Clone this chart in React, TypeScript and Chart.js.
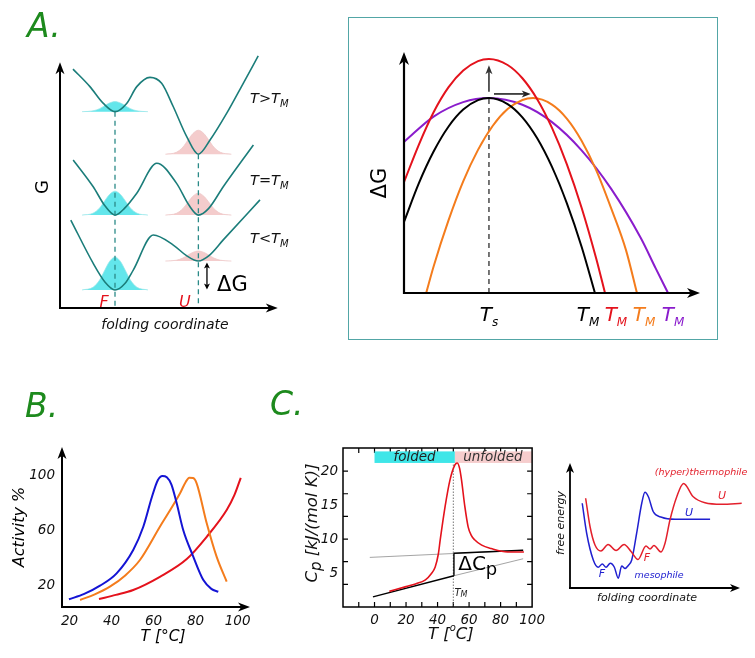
import React, { useEffect, useRef } from "react";
import { Chart, registerables } from "chart.js";

Chart.register(...registerables);

const FONT = "'DejaVu Sans', 'Noto Sans', sans-serif";

// ===== Panel A (left): G along the folding coordinate (x 0-100, G 0-100) =====
const wellAbove = [[5.9, 92.6], [13.6, 85.8], [19.7, 79.3], [25, 76.1], [30.3, 79.3], [34.9, 85.8], [40.9, 89.4], [46.2, 87.1], [51.5, 78], [57.6, 66.4], [62.9, 59.6], [68.2, 65.1], [75.8, 75.5], [83.3, 87.1], [90.1, 97.7]];
const wellAt = [[6, 57.4], [15.1, 47], [20.5, 39.5], [25, 36], [29.5, 38.8], [34.9, 44.5], [44, 56.1], [53, 48.3], [58.5, 40], [62.9, 36], [67.5, 38.5], [74.2, 47], [87.9, 63.2]];
const wellBelow = [[4.9, 34.1], [15.1, 17.3], [20.5, 10], [25, 7], [29.5, 9.5], [33.3, 14.7], [42.4, 28.3], [51.5, 24.4], [57.5, 20.3], [62.9, 18.2], [68, 20.5], [74.2, 26.4], [90.9, 41.9]];
const bumpShape = [[-15, 0], [-10, 0.08], [-7, 0.3], [-4.5, 0.62], [-2.5, 0.86], [0, 1], [2.5, 0.86], [4.5, 0.62], [7, 0.3], [10, 0.08], [15, 0]];
// [centre, base, height]
const foldedBumps = [[25, 76.1, 3.9], [25, 36, 9.3], [25, 7, 12.8]];
const unfoldedBumps = [[62.9, 59.6, 9.3], [62.9, 36, 8.5], [62.9, 18.2, 3.9]];
const aLeftDashX = [25, 62.9];
const aLeftDashTop = [76.1, 59.6];
const stateLabels = [["T>T", 81.4], ["T=T", 49.6], ["T<T", 27.1]];

// ===== Panel A (right): ΔG(T) =====
const dgBlack = [[0, 29.5], [5, 45.5], [10, 58.7], [15, 69], [20, 76.1], [25, 80], [28.7, 80.9], [35, 78.4], [40, 72.9], [45, 64.2], [50, 52.3], [55, 37.3], [60, 19.2], [64.5, 0]];
const dgRed = [[0, 46], [5, 61.5], [10, 75], [15, 85.3], [20, 92.3], [25, 96.2], [28.7, 97.1], [35, 94.6], [40, 89.1], [45, 80.4], [50, 68.5], [55, 53.5], [60, 35.4], [65, 14], [67.9, 0]];
const dgOrange = [[7.5, 0], [10, 11], [15, 30], [20, 46.3], [25, 59.4], [30, 69.4], [35, 76.3], [40, 80.1], [43.6, 80.9], [50, 78.2], [55, 72.4], [60, 63.2], [65, 50.8], [70, 35.1], [75, 17.8], [78.7, 0]];
const dgPurple = [[0, 62.7], [10, 73.2], [20, 79.2], [28.7, 80.9], [40, 78.1], [50, 70.9], [60, 59.2], [70, 43.2], [80, 22.8], [85, 10.3], [89.2, 0]];
const tS = 28.7;
const dgTop = 80.9;
const tmLabelX = [62.2, 71.6, 81.1, 90.9];

// ===== Panel B: activity vs temperature =====
const actMeso = [[19.7, 9.6], [27, 13.5], [34.5, 19.5], [42.4, 28.5], [50.3, 45.5], [55.1, 62.4], [59.2, 84], [62, 96.2], [64.2, 99.3], [66.3, 98.4], [68.5, 93], [71, 79.4], [74.1, 60], [78.6, 41.8], [83.7, 23.6], [87.5, 17.2], [90.8, 15.1]];
const actThermo = [[25, 9.1], [32, 13.2], [39.2, 18.8], [46.5, 27], [53.5, 38.2], [63, 62.4], [72.6, 86.7], [75.3, 95], [77, 98], [78.8, 97.8], [80.5, 94], [85.3, 64.9], [90, 40.6], [94.8, 22.4]];
const actHyper = [[34, 9.8], [42, 12.8], [50.3, 16.4], [63, 26], [75.8, 38.9], [85.3, 55.1], [94.8, 74.5], [98.5, 85.5], [101.5, 98]];
const bTicksX = [20, 40, 60, 80, 100];
const bTicksY = [20, 60, 100];

// ===== Panel C: heat capacity =====
const cpCurve = [[9.4, 2.3], [20, 3.0], [26, 3.4], [32.3, 4.0], [36, 4.9], [38.5, 5.9], [40.5, 7.8], [41.7, 9.9], [44.8, 14.8], [47.9, 18.7], [51, 20.9], [52.5, 21.2], [54, 20.4], [55.2, 18.7], [57.3, 14.8], [59.4, 11.8], [61.5, 10.5], [63.5, 9.9], [68, 9.1], [74, 8.6], [84.4, 8.1], [94.8, 8.1]];
const cpFoldedBase = [[-1, 1.5], [50.4, 4.6]];
const cpFoldedExt = [[50.4, 4.6], [94.3, 7.1]];
const cpUnfoldedExt = [[-3, 7.3], [94.3, 8.35]];
const cpUnfoldedBase = [[50.4, 7.9], [94.3, 8.35]];
const cpDelta = [[50.4, 4.6], [50.4, 7.9]];
const cpTm = [[50, 0], [50, 21]];
const cTicksX = [0, 20, 40, 60, 80, 100];
const cTicksY = [5, 10, 15, 20];
const cMarksX = [-10, 0, 10, 20, 30, 40, 50, 60, 70, 80, 90];
const cMarksY = [3.33, 6.67, 10, 13.33, 16.67, 20];
const foldedBand = [0, 51];
const unfoldedBand = [51, 100];
const bandY = [21.2, 22.9];

// ===== Panel C: landscapes =====
const feThermo = [[9.2, 71.8], [11.8, 49], [14.7, 34.4], [18.2, 29.6], [22.4, 34.8], [27.1, 30], [31.8, 34.8], [35.9, 29.2], [40, 22.8], [44.7, 33.6], [47.1, 31.2], [49.4, 34], [53.5, 28.8], [55.9, 35.8], [58.8, 54.4], [62.8, 73], [66.8, 83.6], [72.5, 73], [79.4, 68.2], [89.2, 67], [101, 67.8]];
const feMeso = [[7.2, 67.8], [9.8, 43.8], [13.7, 22.4], [16.6, 16.6], [19, 19.2], [21.2, 16.6], [23.7, 19.8], [26.1, 16.6], [28.4, 7.8], [30.4, 17.6], [32.4, 15.6], [34.3, 18], [36.3, 22.4], [39.2, 43.8], [42.2, 67.8], [44.1, 76.6], [46.1, 73], [49, 61], [53.9, 56.6], [61.8, 55], [82.4, 55]];

// ---------- helpers ----------
type Pt = { x: number; y: number };
const P = (a: number[][]): Pt[] => a.map(([x, y]) => ({ x, y }));
const bump = (c: number, base: number, h: number): Pt[] => bumpShape.map(([dx, f]) => ({ x: c + dx, y: base + f * h }));
const fnt = (size: number, italic = false) => `${italic ? "italic " : ""}${size}px ${FONT}`;

type Part = { t: string; size: number; dy?: number; italic?: boolean; color?: string };
function rich(ctx: CanvasRenderingContext2D, parts: Part[], x: number, y: number, o: { align?: string; color?: string; rotate?: number } = {}) {
  const { align = "center", color = "#000", rotate = 0 } = o;
  ctx.save();
  ctx.translate(x, y);
  if (rotate) ctx.rotate(rotate);
  const widths = parts.map((p) => {
    ctx.font = fnt(p.size, p.italic);
    return ctx.measureText(p.t).width;
  });
  const total = widths.reduce((a, b) => a + b, 0);
  let cx = align === "left" ? 0 : align === "right" ? -total : -total / 2;
  const base = parts[0].size * 0.36;
  ctx.textBaseline = "alphabetic";
  ctx.textAlign = "left";
  parts.forEach((p, i) => {
    ctx.font = fnt(p.size, p.italic);
    ctx.fillStyle = p.color || color;
    ctx.fillText(p.t, cx, base + (p.dy || 0));
    cx += widths[i];
  });
  ctx.restore();
}
function head(ctx: CanvasRenderingContext2D, x: number, y: number, ang: number, len: number, w: number) {
  ctx.save();
  ctx.translate(x, y);
  ctx.rotate(ang);
  ctx.beginPath();
  ctx.moveTo(0, 0);
  ctx.lineTo(-len, -w);
  ctx.lineTo(-len * 0.72, 0);
  ctx.lineTo(-len, w);
  ctx.closePath();
  ctx.fill();
  ctx.restore();
}
function arrow(ctx: CanvasRenderingContext2D, x1: number, y1: number, x2: number, y2: number, o: { color?: string; width?: number; len?: number; w?: number; both?: boolean } = {}) {
  const { color = "#000", width = 2, len = 12, w = 4.5, both = false } = o;
  const ang = Math.atan2(y2 - y1, x2 - x1);
  const c = Math.cos(ang), s = Math.sin(ang);
  const ins = len * 0.7;
  ctx.save();
  ctx.strokeStyle = color;
  ctx.fillStyle = color;
  ctx.lineWidth = width;
  ctx.beginPath();
  ctx.moveTo(both ? x1 + c * ins : x1, both ? y1 + s * ins : y1);
  ctx.lineTo(x2 - c * ins, y2 - s * ins);
  ctx.stroke();
  head(ctx, x2, y2, ang, len, w);
  if (both) head(ctx, x1, y1, ang + Math.PI, len, w);
  ctx.restore();
}
function seg(ctx: CanvasRenderingContext2D, x1: number, y1: number, x2: number, y2: number, color: string, width: number, dash: number[] = []) {
  ctx.save();
  ctx.strokeStyle = color;
  ctx.lineWidth = width;
  ctx.setLineDash(dash);
  ctx.beginPath();
  ctx.moveTo(x1, y1);
  ctx.lineTo(x2, y2);
  ctx.stroke();
  ctx.restore();
}

const line = (data: Pt[], color: string, width = 1.6, extra: any = {}) => ({
  data, borderColor: color, borderWidth: width, pointRadius: 0, fill: false,
  cubicInterpolationMode: "monotone", clip: false, ...extra,
});
const straight = (data: Pt[], color: string, width: number, extra: any = {}) => ({
  data, borderColor: color, borderWidth: width, pointRadius: 0, fill: false, tension: 0, clip: false, ...extra,
});

type H = { ctx: CanvasRenderingContext2D; X: (v: number) => number; Y: (v: number) => number; area: any };
const helpers = (chart: any): H => ({
  ctx: chart.ctx,
  X: (v: number) => chart.scales.x.getPixelForValue(v),
  Y: (v: number) => chart.scales.y.getPixelForValue(v),
  area: chart.chartArea,
});

function makeConfig(o: { datasets: any[]; pad: any; x: any; y: any; under?: (h: H) => void; over?: (h: H) => void }) {
  return {
    type: "line",
    data: { datasets: o.datasets },
    options: {
      responsive: false,
      animation: false,
      events: [],
      layout: { padding: o.pad },
      scales: { x: { type: "linear", ...o.x }, y: { type: "linear", ...o.y } },
      plugins: { legend: { display: false }, tooltip: { enabled: false }, title: { display: false } },
      elements: { point: { radius: 0 } },
    },
    plugins: [
      {
        id: "annot",
        beforeDatasetsDraw(chart: any) { o.under && o.under(helpers(chart)); },
        afterDatasetsDraw(chart: any) { o.over && o.over(helpers(chart)); },
      },
    ],
  } as any;
}

const hidden = (min: number, max: number) => ({ display: false, min, max });
const shown = (min: number, max: number, ticks: number[], fontSize: number, pad: number, fit: "w" | "h", size: number) => ({
  display: true,
  min, max,
  grid: { display: false, drawTicks: false },
  border: { display: false },
  ticks: { font: { family: FONT, size: fontSize, style: "italic" }, color: "#111", padding: pad, autoSkip: false, maxRotation: 0, minRotation: 0 },
  afterBuildTicks: (s: any) => { s.ticks = ticks.map((v) => ({ value: v })); },
  afterFit: (s: any) => { if (fit === "w") s.width = size; else s.height = size; },
});

// ---------- colours ----------
const TEAL = "#1b7d7a";
const CYAN_FILL = "rgba(72, 226, 232, 0.85)";
const CYAN_EDGE = "rgba(150, 230, 232, 0.7)";
const PINK_FILL = "rgba(240, 184, 184, 0.72)";
const PINK_EDGE = "rgba(238, 200, 200, 0.8)";
const RED = "#e4121c";
const ORANGE = "#f47c1c";
const PURPLE = "#8a1ccc";
const BLUE = "#1414d4";
const GREEN = "#1d8a1d";

// ---------- panel configs ----------
const configALeft = () =>
  makeConfig({
    pad: { left: 60, right: 20, top: 50, bottom: 32 },
    x: hidden(0, 100),
    y: hidden(0, 100),
    datasets: [
      line(P(wellAbove), TEAL),
      line(P(wellAt), TEAL),
      line(P(wellBelow), TEAL),
      ...foldedBumps.map(([c, b, h]) => line(bump(c, b, h), CYAN_EDGE, 1, { fill: { value: b }, backgroundColor: CYAN_FILL })),
      ...unfoldedBumps.map(([c, b, h]) => line(bump(c, b, h), PINK_EDGE, 1, { fill: { value: b }, backgroundColor: PINK_FILL })),
    ],
    over: ({ ctx, X, Y }) => {
      aLeftDashX.forEach((x, i) => seg(ctx, X(x), Y(aLeftDashTop[i]), X(x), Y(0), "#2b8a88", 1.3, [5, 4]));
      arrow(ctx, X(0), Y(0) + 1, X(0), Y(95.3), { width: 2 });
      arrow(ctx, X(0) - 1, Y(0), X(99), Y(0), { width: 2 });
      rich(ctx, [{ t: "F", size: 16, italic: true }], X(20), Y(2.6), { color: RED });
      rich(ctx, [{ t: "U", size: 16, italic: true }], X(56.8), Y(2.6), { color: RED });
      rich(ctx, [{ t: "folding coordinate", size: 14, italic: true }], X(47.7), Y(-6.3), { color: "#111" });
      rich(ctx, [{ t: "G", size: 18 }], X(-8.2), Y(46.9), { rotate: -Math.PI / 2 });
      stateLabels.forEach(([s, y]) =>
        rich(ctx, [{ t: s as string, size: 14.5, italic: true }, { t: "M", size: 10, italic: true, dy: 4 }], X(86.4), Y(y as number), { align: "left", color: "#111" })
      );
      arrow(ctx, X(66.8), Y(17.6), X(66.8), Y(7.2), { width: 1.3, len: 6, w: 3, both: true });
      rich(ctx, [{ t: "ΔG", size: 21 }], X(71.4), Y(9.7), { align: "left" });
    },
  });

const configARight = () =>
  makeConfig({
    pad: { left: 64, right: 55, top: 52, bottom: 47 },
    x: hidden(0, 100),
    y: hidden(0, 100),
    datasets: [
      line(P(dgBlack), "#000", 2),
      line(P(dgRed), RED, 2),
      line(P(dgOrange), ORANGE, 2),
      line(P(dgPurple), PURPLE, 2),
    ],
    under: ({ ctx, X, Y }) => {
      seg(ctx, X(tS), Y(0), X(tS), Y(dgTop), "#555", 1.6, [5, 4]);
    },
    over: ({ ctx, X, Y }) => {
      arrow(ctx, X(0), Y(0) + 1, X(0), Y(100), { width: 2.2, len: 13, w: 5 });
      arrow(ctx, X(0) - 1, Y(0), X(100), Y(0), { width: 2.2, len: 13, w: 5 });
      arrow(ctx, X(tS), Y(83.5), X(tS), Y(94.5), { color: "#333", width: 1.6, len: 9, w: 3.5 });
      arrow(ctx, X(30.4), Y(82.6), X(42.8), Y(82.6), { color: "#222", width: 1.6, len: 9, w: 3.5 });
      rich(ctx, [{ t: "ΔG", size: 21 }], X(-8.8), Y(45.6), { rotate: -Math.PI / 2 });
      rich(ctx, [{ t: "T", size: 20, italic: true }, { t: "s", size: 12, italic: true, dy: 5 }], X(tS), Y(-8.6));
      ["#000", RED, ORANGE, PURPLE].forEach((c, i) =>
        rich(ctx, [{ t: "T", size: 20, italic: true }, { t: "M", size: 12, italic: true, dy: 5 }], X(tmLabelX[i]), Y(-8.6), { color: c })
      );
    },
  });

const configB = () =>
  makeConfig({
    pad: { left: 0, right: 30, top: 67, bottom: 0 },
    x: shown(16.4, 105.9, bTicksX, 13.5, 6, "h", 51),
    y: shown(4, 120.4, bTicksY, 13.5, 7, "w", 62),
    datasets: [
      line(P(actMeso), BLUE, 2),
      line(P(actThermo), ORANGE, 2),
      line(P(actHyper), RED, 2),
    ],
    over: ({ ctx, X, Y, area }) => {
      arrow(ctx, area.left, area.bottom + 1, area.left, area.top, { width: 2, len: 12, w: 4.5 });
      arrow(ctx, area.left - 1, area.bottom, area.right, area.bottom, { width: 2, len: 12, w: 4.5 });
      rich(ctx, [{ t: "Activity %", size: 16, italic: true }], X(-4.6), Y(62.2), { rotate: -Math.PI / 2 });
      rich(ctx, [{ t: "T [°C]", size: 15.5, italic: true }], X(64.5), Y(-16.4));
    },
  });

const configC = () =>
  makeConfig({
    pad: { left: 0, right: 14, top: 68, bottom: 0 },
    x: shown(-20, 100, cTicksX, 13.5, 5, "h", 51),
    y: shown(0, 23.4, cTicksY, 13.5, 5, "w", 83),
    datasets: [
      line(P(cpCurve), RED, 1.6),
      straight(P(cpFoldedBase), "#000", 1.4),
      straight(P(cpUnfoldedBase), "#000", 1.4),
      straight(P(cpDelta), "#000", 1.4),
      straight(P(cpFoldedExt), "#9a9a9a", 0.9),
      straight(P(cpUnfoldedExt), "#9a9a9a", 0.9),
      straight(P(cpTm), "#666", 0.9, { borderDash: [1.5, 1.5] }),
    ],
    under: ({ ctx, X, Y, area }) => {
      ctx.save();
      ctx.strokeStyle = "#000";
      ctx.lineWidth = 1.2;
      ctx.beginPath();
      cMarksX.forEach((v) => {
        ctx.moveTo(X(v), area.bottom); ctx.lineTo(X(v), area.bottom - 5);
        ctx.moveTo(X(v), area.top); ctx.lineTo(X(v), area.top + 5);
      });
      cMarksY.forEach((v) => {
        ctx.moveTo(area.left, Y(v)); ctx.lineTo(area.left + 5, Y(v));
        ctx.moveTo(area.right, Y(v)); ctx.lineTo(area.right - 5, Y(v));
      });
      ctx.stroke();
      ctx.fillStyle = "#3fe6e8";
      ctx.fillRect(X(foldedBand[0]), Y(bandY[1]), X(foldedBand[1]) - X(foldedBand[0]), Y(bandY[0]) - Y(bandY[1]));
      ctx.fillStyle = "#f6cdcd";
      ctx.fillRect(X(unfoldedBand[0]), Y(bandY[1]), X(unfoldedBand[1]) - X(unfoldedBand[0]), Y(bandY[0]) - Y(bandY[1]));
      ctx.restore();
      rich(ctx, [{ t: "folded", size: 13.5, italic: true }], X(25.4), Y(22.2), { color: "#222" });
      rich(ctx, [{ t: "unfolded", size: 13.5, italic: true }], X(75.1), Y(22.2), { color: "#333" });
    },
    over: ({ ctx, X, Y, area }) => {
      ctx.save();
      ctx.strokeStyle = "#000";
      ctx.lineWidth = 1.5;
      ctx.strokeRect(area.left, area.top, area.right - area.left, area.bottom - area.top);
      ctx.restore();
      rich(ctx, [{ t: "ΔC", size: 20 }, { t: "p", size: 18, dy: 5 }], X(53.1), Y(6.5), { align: "left" });
      rich(ctx, [{ t: "T", size: 10, italic: true }, { t: "M", size: 8, italic: true, dy: 1 }], X(50.7), Y(2.1), { align: "left", color: "#222" });
      rich(ctx, [{ t: "C", size: 16.5, italic: true }, { t: "p", size: 15, italic: true, dy: 4 }, { t: " [kJ/(mol K)]", size: 16.5, italic: true }], X(-40.5), Y(12.35), { rotate: -Math.PI / 2, color: "#111" });
      rich(ctx, [{ t: "T [", size: 16.5, italic: true }, { t: "o", size: 10, italic: true, dy: -8 }, { t: "C]", size: 16.5, italic: true }], X(48.4), Y(-3.8), { color: "#111" });
    },
  });

const configCLand = () =>
  makeConfig({
    pad: { left: 20, right: 15, top: 43, bottom: 32 },
    x: hidden(0, 100),
    y: hidden(0, 100),
    datasets: [line(P(feThermo), "#e3202c", 1.5), line(P(feMeso), "#2020d0", 1.5)],
    over: ({ ctx, X, Y }) => {
      arrow(ctx, X(0), Y(0) + 1, X(0), Y(100), { width: 1.8, len: 10, w: 4 });
      arrow(ctx, X(0) - 1, Y(0), X(100), Y(0), { width: 1.8, len: 10, w: 4 });
      rich(ctx, [{ t: "free energy", size: 11, italic: true }], X(-5.9), Y(52), { rotate: -Math.PI / 2, color: "#111" });
      rich(ctx, [{ t: "folding coordinate", size: 11, italic: true }], X(45.3), Y(-7.5), { color: "#111" });
      rich(ctx, [{ t: "(hyper)thermophile", size: 9.5, italic: true }], X(77.1), Y(92.8), { color: "#e3202c" });
      rich(ctx, [{ t: "U", size: 11, italic: true }], X(89.4), Y(74.4), { color: "#e3202c" });
      rich(ctx, [{ t: "F", size: 11, italic: true }], X(45.3), Y(24.8), { color: "#e3202c" });
      rich(ctx, [{ t: "U", size: 11, italic: true }], X(70), Y(60.8), { color: "#2020d0" });
      rich(ctx, [{ t: "F", size: 11, italic: true }], X(18.8), Y(12), { color: "#2020d0" });
      rich(ctx, [{ t: "mesophile", size: 9.5, italic: true }], X(52.4), Y(10.4), { color: "#2020d0" });
    },
  });

function Panel({ left, top, width, height, config }: { left: number; top: number; width: number; height: number; config: () => any }) {
  const ref = useRef<HTMLCanvasElement | null>(null);
  useEffect(() => {
    const chart = new Chart(ref.current as HTMLCanvasElement, config());
    return () => chart.destroy();
  }, []);
  return <canvas ref={ref} width={width} height={height} style={{ position: "absolute", left, top, width, height, display: "block" }} />;
}

const letterStyle = (left: number, top: number): React.CSSProperties => ({
  position: "absolute", left, top, fontFamily: FONT, fontStyle: "italic", fontSize: 33, lineHeight: "33px", color: GREEN,
});

export default function App() {
  return (
    <div style={{ position: "fixed", left: 0, top: 0, width: 755, height: 658, background: "#fff", overflow: "hidden" }}>
      <div style={{ position: "absolute", left: 348, top: 17, width: 370, height: 323, border: "1.5px solid #52a6a6", boxSizing: "border-box" }} />
      <Panel left={0} top={0} width={300} height={340} config={configALeft} />
      <Panel left={340} top={0} width={415} height={340} config={configARight} />
      <Panel left={0} top={380} width={280} height={278} config={configB} />
      <Panel left={260} top={380} width={290} height={278} config={configC} />
      <Panel left={550} top={420} width={205} height={200} config={configCLand} />
      <div style={letterStyle(27, 9)}>A.</div>
      <div style={letterStyle(25, 389)}>B.</div>
      <div style={letterStyle(270, 387)}>C.</div>
    </div>
  );
}
